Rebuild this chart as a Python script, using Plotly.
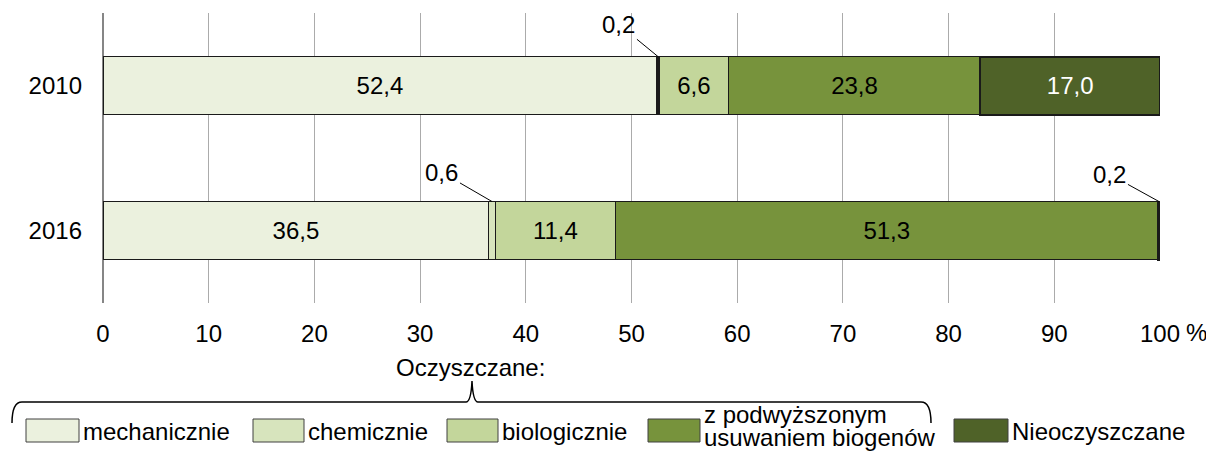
import plotly.graph_objects as go

# ---- data ----
years = ["2010", "2016"]
series_names = ["mechanicznie", "chemicznie", "biologicznie",
                "z podwyższonym<br>usuwaniem biogenów", "Nieoczyszczane"]
mechanicznie = [52.4, 36.5]
chemicznie = [0.2, 0.6]
biologicznie = [6.6, 11.4]
podwyzszone = [23.8, 51.3]
nieoczyszczane = [17.0, 0.2]
series_values = [mechanicznie, chemicznie, biologicznie, podwyzszone, nieoczyszczane]
x_ticks = [0, 10, 20, 30, 40, 50, 60, 70, 80, 90, 100]
x_tick_labels = ["0", "10", "20", "30", "40", "50", "60", "70", "80", "90", "100"]
group_label = "Oczyszczane:"
unit_label = "%"

colors = ["#EBF1DE", "#D7E4BD", "#C3D69B", "#77933C", "#4F6228"]
text_colors = ["black", "black", "black", "black", "white"]
FONT = "Liberation Sans, Arial, sans-serif"
FS = 24

# plot area geometry (pixels)
W, H = 1206, 454
L, R, T, B = 103, 1160, 13, 303
BAR_W = 0.4


def fmt(v):
    return f"{v:.1f}".replace(".", ",")


def px2x(px):
    return (px - L) / (R - L)


def py2y(py):
    return (B - py) / (B - T)


fig = go.Figure()
for i, (name, vals) in enumerate(zip(series_names, series_values)):
    fig.add_trace(go.Bar(
        y=years, x=vals, orientation="h", name=name,
        width=BAR_W,
        marker=dict(color=colors[i],
                    line=dict(color="#1a1a1a", width=2 if i == 4 else 1.3)),
        text=[fmt(v) if v >= 1 else "" for v in vals],
        textposition="inside", insidetextanchor="middle", textangle=0,
        textfont=dict(family=FONT, size=FS, color=text_colors[i]),
        constraintext="none",
        showlegend=False, hoverinfo="skip",
    ))

annotations = []
shapes = []

# small-value labels with leader lines
small_specs = [  # (year index, series index, ax, ay)
    (0, 1, -39, -32),
    (1, 1, -50, -29),
    (1, 4, -49, -27),
]
year_pos = {"2016": 0, "2010": 1}
for yi, si, ax, ay in small_specs:
    start = sum(series_values[k][yi] for k in range(si))
    center = start + series_values[si][yi] / 2
    annotations.append(dict(
        x=center, y=year_pos[years[yi]] + BAR_W / 2, xref="x", yref="y",
        text=fmt(series_values[si][yi]), showarrow=True, arrowhead=0,
        arrowwidth=1, arrowcolor="black", ax=ax, ay=ay,
        font=dict(family=FONT, size=FS, color="black"), standoff=0,
    ))

# unit label "%"
annotations.append(dict(
    x=px2x(1184), y=py2y(332), xref="paper", yref="paper",
    text=unit_label, showarrow=False, xanchor="left", yanchor="middle",
    font=dict(family=FONT, size=FS, color="black")))

# group label
annotations.append(dict(
    x=px2x(470), y=py2y(367), xref="paper", yref="paper",
    text=group_label, showarrow=False, xanchor="center", yanchor="middle",
    font=dict(family=FONT, size=FS, color="black")))

# brace
pts = [(12, 423), (12, 402), (22, 402), (466, 402), (471, 402), (472, 381),
       (473, 402), (478, 402), (921, 402), (931, 402), (931, 423)]
P = [(px2x(a), py2y(b)) for a, b in pts]
path = (f"M {P[0][0]},{P[0][1]} Q {P[1][0]},{P[1][1]} {P[2][0]},{P[2][1]} "
        f"L {P[3][0]},{P[3][1]} Q {P[4][0]},{P[4][1]} {P[5][0]},{P[5][1]} "
        f"Q {P[6][0]},{P[6][1]} {P[7][0]},{P[7][1]} "
        f"L {P[8][0]},{P[8][1]} Q {P[9][0]},{P[9][1]} {P[10][0]},{P[10][1]}")
shapes.append(dict(type="path", path=path, xref="paper", yref="paper",
                   line=dict(color="black", width=1.5)))

# custom legend
legend_boxes = [(26, 79), (253, 304), (447, 498), (648, 700), (954, 1008)]
for i, (x0, x1) in enumerate(legend_boxes):
    shapes.append(dict(type="rect", xref="paper", yref="paper",
                       x0=px2x(x0), x1=px2x(x1), y0=py2y(442), y1=py2y(419),
                       fillcolor=colors[i], line=dict(color="#404040", width=1)))
    lines = series_names[i].split("<br>")
    if len(lines) == 1:
        ys = [431]
    else:
        ys = [415, 437]
    for txt, yy in zip(lines, ys):
        annotations.append(dict(
            x=px2x(x1 + 2), y=py2y(yy), xref="paper", yref="paper",
            text=txt, showarrow=False, xanchor="left", yanchor="middle",
            align="left",
            font=dict(family=FONT, size=FS, color="black")))

fig.update_layout(
    barmode="stack",
    width=W, height=H,
    margin=dict(l=L, r=W - R, t=T, b=H - B, pad=0),
    paper_bgcolor="white", plot_bgcolor="white",
    font=dict(family=FONT, size=FS, color="black"),
    xaxis=dict(range=[0, 100], tickvals=x_ticks, ticktext=x_tick_labels,
               showgrid=True, gridcolor="#ABABAB", gridwidth=1,
               zeroline=True, zerolinecolor="#868686", zerolinewidth=2,
               showline=False, ticks="", ticklabelstandoff=14,
               tickfont=dict(family=FONT, size=FS, color="black")),
    yaxis=dict(type="category", categoryarray=["2016", "2010"],
               range=[-0.5, 1.5], showgrid=False, zeroline=False,
               showline=False, ticks="", ticklabelstandoff=20,
               tickfont=dict(family=FONT, size=FS, color="black")),
    annotations=annotations, shapes=shapes,
)

fig.write_html(
    "out.html",
    config={"displayModeBar": False},
    post_script="document.body.style.margin='0';document.body.style.overflow='hidden';",
)
